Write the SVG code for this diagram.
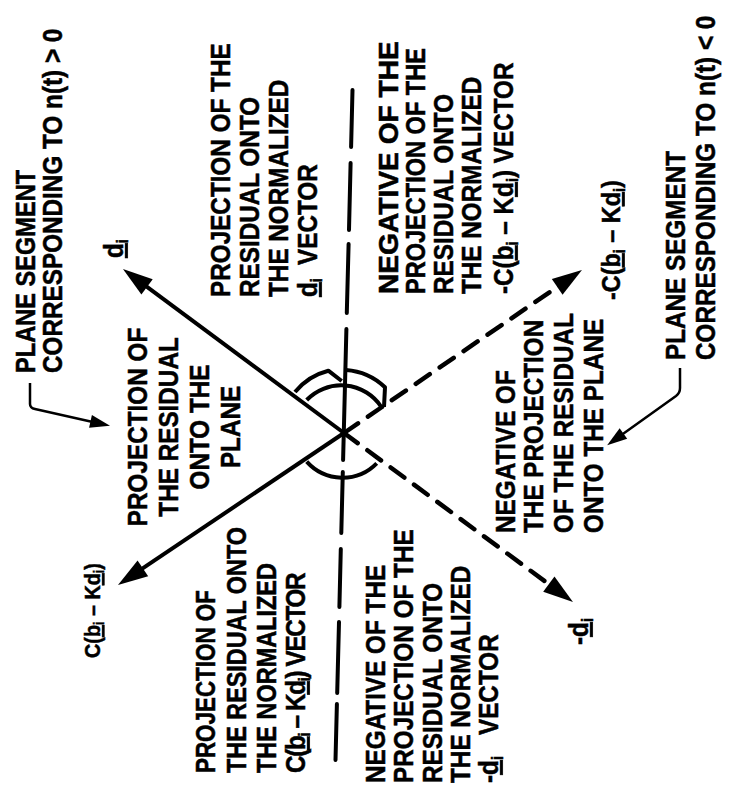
<svg xmlns="http://www.w3.org/2000/svg" width="733" height="804" viewBox="0 0 733 804">
<style>
  text { font-family: "Liberation Sans", Arial, Helvetica, sans-serif; font-weight: bold; font-size: 27px; fill: #000; stroke: #000; stroke-width: 0.5px; }
  .mid { text-anchor: middle; }
  .sub { font-size: 16px; }
  .ul { text-decoration: underline; }
  .solid { stroke: #000; stroke-width: 4; fill: none; }
  .dash { stroke: #000; stroke-width: 4.5; fill: none; stroke-dasharray: 17 12; stroke-linecap: round; }
  .axis { stroke: #000; stroke-width: 4; fill: none; stroke-linecap: round; }
  .lead { stroke: #000; stroke-width: 2.5; fill: none; }
  .arc { stroke: #000; stroke-width: 4; fill: none; stroke-linejoin: round; }
</style>
<defs>
  <marker id="head" markerUnits="userSpaceOnUse" viewBox="-18 -11 34 22" markerWidth="34" markerHeight="22" refX="0" refY="0" orient="auto">
    <path d="M14,0 L-16,-9.5 L-16,9.5 Z" fill="#000"/>
  </marker>
  <marker id="small" markerUnits="userSpaceOnUse" viewBox="-10 -8 24 16" markerWidth="24" markerHeight="16" refX="0" refY="0" orient="auto">
    <path d="M12,0 L-8,-6.5 L-8,6.5 Z" fill="#000"/>
  </marker>
</defs>
<rect width="733" height="804" fill="#fff"/>

<g id="connectors">
  <path class="axis" d="M352.5,90 L351.1,147 M350.6,163 L349,230 M348.6,244 L346.8,313 M346.4,329 L343.1,460 M342.8,472 L341.3,533 M340.8,549 L339.4,607 M339,622 L337.2,693 M336.9,704 L335.5,760"/>
  <path class="solid" d="M344,433 L134.2,277.3" marker-end="url(#head)"/>
  <path class="solid" d="M344,433 L129.6,577.2" marker-end="url(#head)"/>
  <path class="dash" d="M344,433 L570.4,277.9" marker-end="url(#head)"/>
  <path class="dash" d="M344,433 L561.7,593.7" marker-end="url(#head)"/>
  <path class="arc" d="M306.7,400 A48,48 0 0 1 381,406.5"/>
  <path class="arc" d="M295,392 A63,63 0 0 1 328.3,370.7 L341.7,381"/>
  <path class="arc" d="M346,370 A63,63 0 0 1 385,387.3 L384,407"/>
  <path class="arc" d="M306.7,461.7 A48,48 0 0 0 376.7,463.3"/>
  <path class="lead" d="M30,383 L30,404 Q30,408 35,409 L98.3,423.2" marker-end="url(#small)"/>
  <path class="lead" d="M680,368 L680,388 Q680,393 676,396 L616.9,438.2" marker-end="url(#small)"/>
</g>

<g id="plane-pos">
  <text transform="rotate(-90) scale(0.9,1)" x="-414.4" y="35" textLength="225.6" lengthAdjust="spacingAndGlyphs">PLANE SEGMENT</text>
  <text transform="rotate(-90) scale(0.9,1)" x="-414.4" y="62">CORRESPONDING TO n(t) &gt; 0</text>
</g>

<g id="proj-plane">
  <text class="mid" transform="rotate(-90) scale(0.9,1)" x="-474.4" y="147">PROJECTION OF</text>
  <text class="mid" transform="rotate(-90) scale(0.9,1)" x="-474.4" y="178">THE RESIDUAL</text>
  <text class="mid" transform="rotate(-90) scale(0.9,1)" x="-474.4" y="209">ONTO THE</text>
  <text class="mid" transform="rotate(-90) scale(0.9,1)" x="-474.4" y="240">PLANE</text>
</g>

<g id="proj-d">
  <text transform="rotate(-90) scale(0.9,1)" x="-330" y="230">PROJECTION OF THE</text>
  <text transform="rotate(-90) scale(0.9,1)" x="-330" y="259">RESIDUAL ONTO</text>
  <text transform="rotate(-90) scale(0.9,1)" x="-330" y="288">THE NORMALIZED</text>
  <text transform="rotate(-90) scale(0.9,1)" x="-330" y="317"><tspan class="ul">d</tspan><tspan class="sub" dy="5">i</tspan></text>
  <text transform="rotate(-90) scale(0.9,1)" x="-294.4" y="317">VECTOR</text>
</g>

<g id="neg-proj-c">
  <text transform="rotate(-90) scale(0.9,1)" x="-326.7" y="398" textLength="281" lengthAdjust="spacingAndGlyphs">NEGATIVE OF THE</text>
  <text transform="rotate(-90) scale(0.9,1)" x="-326.7" y="425" textLength="273.3" lengthAdjust="spacingAndGlyphs">PROJECTION OF THE</text>
  <text transform="rotate(-90) scale(0.9,1)" x="-326.7" y="453">RESIDUAL ONTO</text>
  <text transform="rotate(-90) scale(0.9,1)" x="-326.7" y="481">THE NORMALIZED</text>
  <text transform="rotate(-90) scale(0.9,1)" x="-326.7" y="513">-C(<tspan class="ul">b</tspan><tspan class="sub" dy="5">i</tspan><tspan dy="-5"> – K</tspan><tspan class="ul">d</tspan><tspan class="sub" dy="5">i</tspan><tspan dy="-5">) VECTOR</tspan></text>
</g>

<g id="neg-proj-plane">
  <text transform="rotate(-90) scale(0.9,1)" x="-592.2" y="515">NEGATIVE OF</text>
  <text transform="rotate(-90) scale(0.9,1)" x="-592.2" y="543">THE PROJECTION</text>
  <text transform="rotate(-90) scale(0.9,1)" x="-592.2" y="573">OF THE RESIDUAL</text>
  <text transform="rotate(-90) scale(0.9,1)" x="-592.2" y="603">ONTO THE PLANE</text>
</g>

<g id="plane-neg">
  <text transform="rotate(-90) scale(0.9,1)" x="-400" y="685">PLANE SEGMENT</text>
  <text transform="rotate(-90) scale(0.9,1)" x="-400" y="715">CORRESPONDING TO n(t) &lt; 0</text>
</g>

<g id="proj-c">
  <text transform="rotate(-90) scale(0.9,1)" x="-858.9" y="215" textLength="203.3" lengthAdjust="spacingAndGlyphs">PROJECTION OF</text>
  <text transform="rotate(-90) scale(0.9,1)" x="-858.9" y="246" textLength="273.3" lengthAdjust="spacingAndGlyphs">THE RESIDUAL ONTO</text>
  <text transform="rotate(-90) scale(0.9,1)" x="-858.9" y="276" textLength="233.3" lengthAdjust="spacingAndGlyphs">THE NORMALIZED</text>
  <text transform="rotate(-90) scale(0.9,1)" x="-858.9" y="305" letter-spacing="-1.5">C(<tspan class="ul">b</tspan><tspan class="sub" dy="5">i</tspan><tspan dy="-5"> – K</tspan><tspan class="ul">d</tspan><tspan class="sub" dy="5">i</tspan><tspan dy="-5">) VECTOR</tspan></text>
</g>

<g id="neg-proj-d">
  <text transform="rotate(-90) scale(0.9,1)" x="-870" y="385">NEGATIVE OF THE</text>
  <text transform="rotate(-90) scale(0.9,1)" x="-870" y="413">PROJECTION OF THE</text>
  <text transform="rotate(-90) scale(0.9,1)" x="-870" y="442">RESIDUAL ONTO</text>
  <text transform="rotate(-90) scale(0.9,1)" x="-870" y="470">THE NORMALIZED</text>
  <text transform="rotate(-90) scale(0.9,1)" x="-870" y="498">-<tspan class="ul">d</tspan><tspan class="sub" dy="5">i</tspan></text>
  <text transform="rotate(-90) scale(0.9,1)" x="-816.7" y="498">VECTOR</text>
</g>

<g id="label-d">
  <text transform="rotate(-90) scale(0.9,1)" x="-286.7" y="123"><tspan class="ul">d</tspan><tspan class="sub" dy="5">i</tspan></text>
</g>
<g id="label-c">
  <text transform="rotate(-90) scale(0.9,1)" x="-731.1" y="100" style="font-size:22px">C(<tspan class="ul">b</tspan><tspan class="sub" dy="4" style="font-size:14px">i</tspan><tspan dy="-4"> – K</tspan><tspan class="ul">d</tspan><tspan class="sub" dy="4" style="font-size:14px">i</tspan><tspan dy="-4">)</tspan></text>
</g>
<g id="label-neg-c">
  <text transform="rotate(-90) scale(0.9,1)" x="-333.3" y="620" style="font-size:26px">-C(<tspan class="ul">b</tspan><tspan class="sub" dy="5">i</tspan><tspan dy="-5"> – K</tspan><tspan class="ul">d</tspan><tspan class="sub" dy="5">i</tspan><tspan dy="-5">)</tspan></text>
</g>
<g id="label-neg-d">
  <text transform="rotate(-90) scale(0.9,1)" x="-716.7" y="588">-<tspan class="ul">d</tspan><tspan class="sub" dy="5">i</tspan></text>
</g>
</svg>
